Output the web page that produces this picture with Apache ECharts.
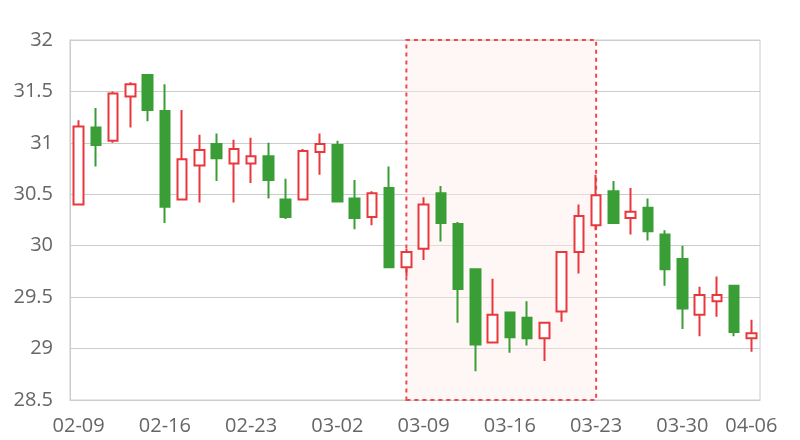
<!DOCTYPE html>
<html>
<head>
<meta charset="utf-8">
<script src="https://cdn.jsdelivr.net/npm/echarts@6/dist/echarts.min.js"></script>
<style>html,body{margin:0;padding:0;background:#fff}#c{width:800px;height:440px}</style>
</head>
<body>
<div id="c"></div>
<script>
var dates = ['02-09','02-10','02-11','02-12','02-13','02-16','02-17','02-18','02-19','02-20',
  '02-23','02-24','02-25','02-26','02-27','03-02','03-03','03-04','03-05','03-06',
  '03-09','03-10','03-11','03-12','03-13','03-16','03-17','03-18','03-19','03-20',
  '03-23','03-24','03-25','03-26','03-27','03-30','03-31','04-01','04-02','04-06'];
var tickLabels = ['02-09','02-16','02-23','03-02','03-09','03-16','03-23','03-30','04-06'];
var openVals  = [30.40,31.15,31.02,31.45,31.66,31.31,30.45,30.78,30.99,30.80,
  30.80,30.87,30.45,30.45,30.91,30.98,30.46,30.28,30.56,29.79,
  29.97,30.51,30.21,29.77,29.06,29.35,29.30,29.10,29.36,29.94,
  30.20,30.53,30.27,30.37,30.11,29.87,29.33,29.46,29.61,29.10];
var closeVals = [31.16,30.98,31.48,31.57,31.32,30.38,30.84,30.93,30.85,30.94,
  30.87,30.64,30.28,30.92,30.99,30.43,30.27,30.51,29.79,29.94,
  30.40,30.22,29.58,29.04,29.33,29.11,29.10,29.25,29.94,30.29,
  30.49,30.22,30.33,30.14,29.77,29.39,29.52,29.52,29.16,29.15];
var lowVals   = [30.40,30.77,31.00,31.15,31.21,30.22,30.45,30.42,30.63,30.42,
  30.61,30.46,30.26,30.45,30.69,30.43,30.16,30.20,29.79,29.70,
  29.86,30.04,29.25,28.78,29.06,28.96,29.03,28.88,29.26,29.73,
  30.15,30.22,30.11,30.05,29.61,29.19,29.12,29.31,29.12,28.97];
var highVals  = [31.22,31.34,31.50,31.59,31.67,31.57,31.32,31.08,31.09,31.03,
  31.05,31.00,30.65,30.94,31.09,31.02,30.64,30.53,30.77,29.97,
  30.47,30.58,30.23,29.77,29.68,29.35,29.46,29.25,29.94,30.40,
  30.69,30.63,30.56,30.46,30.15,30.00,29.60,29.70,29.61,29.28];
var highlightRange = ['03-06','03-23'];

var kData = dates.map(function(d, i){ return [openVals[i], closeVals[i], lowVals[i], highVals[i]]; });
var RED = '#e8383d', GREEN = '#3a9e37';
var chart = echarts.init(document.getElementById('c'));
chart.setOption({
  animation: false,
  textStyle: {fontFamily: 'Open Sans'},
  grid: {left: 70, right: 40, top: 40, bottom: 40, show: true, borderColor: '#cccccc', borderWidth: 1},
  xAxis: {
    type: 'category', data: dates, boundaryGap: true,
    axisLine: {lineStyle: {color: '#cccccc'}},
    axisTick: {show: false},
    axisLabel: {
      color: '#666666', fontSize: 20, margin: 16, fontFamily: 'Open Sans',
      interval: function(idx, val){ return tickLabels.indexOf(val) >= 0; }
    },
    splitLine: {show: false}
  },
  yAxis: {
    type: 'value', min: 28.5, max: 32, interval: 0.5, scale: true,
    axisLine: {show: true, lineStyle: {color: '#cccccc'}},
    axisTick: {show: false},
    axisLabel: {color: '#666666', fontSize: 20, margin: 17, fontFamily: 'Open Sans'},
    splitLine: {lineStyle: {color: '#cccccc'}}
  },
  series: [{
    type: 'candlestick', data: kData, barWidth: 10,
    itemStyle: {color: '#ffffff', color0: GREEN, borderColor: RED, borderColor0: GREEN, borderWidth: 2},
    markArea: {
      silent: true,
      itemStyle: {color: 'rgba(255,235,235,0.45)', borderColor: '#f04a4f', borderWidth: 2, borderType: [4, 4]},
      data: [[{xAxis: highlightRange[0]}, {xAxis: highlightRange[1]}]]
    }
  }]
});
</script>
</body>
</html>
